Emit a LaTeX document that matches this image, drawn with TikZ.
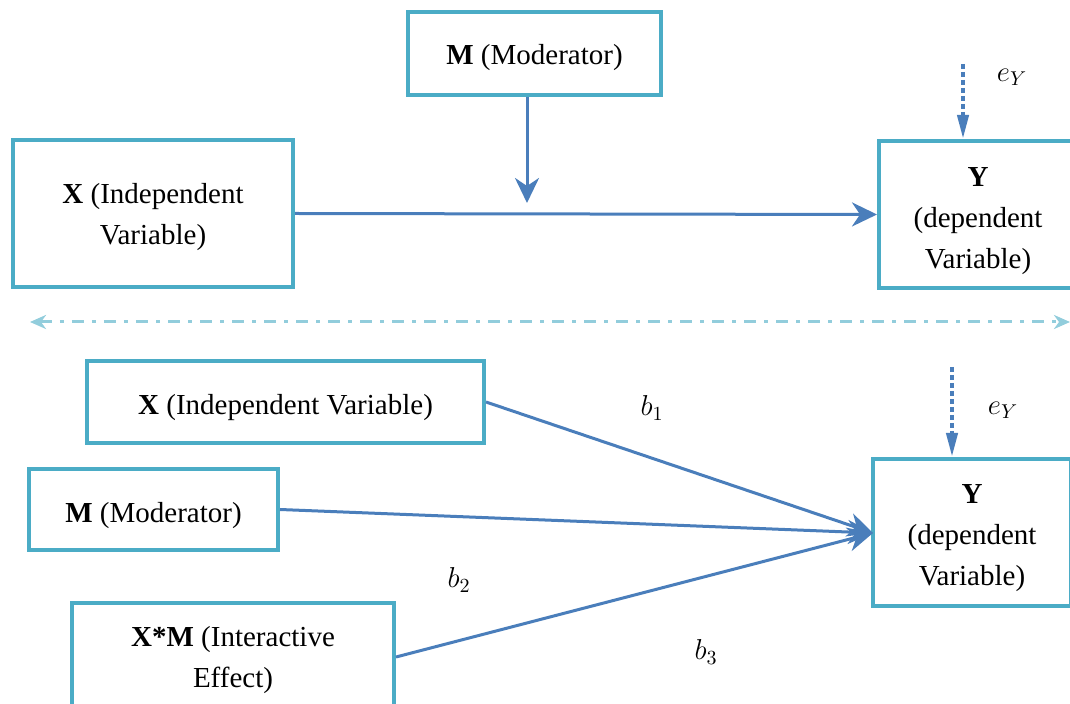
\documentclass[tikz,border=0pt]{standalone}
\usepackage{fontspec}
\setmainfont{Liberation Serif}
\usetikzlibrary{arrows.meta,calc}
\definecolor{boxc}{HTML}{4BACC6}
\definecolor{arrc}{HTML}{4A7EBB}
\definecolor{sepc}{HTML}{92CDDC}
\begin{document}
\begin{tikzpicture}[x=0.5pt,y=-0.5pt,
  vbox/.style={draw=boxc,line width=2pt,inner sep=0pt},
  txt/.style={inner sep=0pt,align=center,font=\fontsize{14.5}{20.5}\selectfont},
  arr/.style={draw=arrc,line width=1.5pt,-{Stealth[length=12.5pt,width=12pt,inset=4pt]}},
  dotarr/.style={draw=arrc,line width=2pt,dash pattern=on 2.5pt off 1.5pt,-{Triangle[length=12pt,width=5.5pt]}},
  sep/.style={draw=sepc,line width=1.5pt,dash pattern=on 6pt off 4pt on 2pt off 4pt,{Stealth[length=8pt,width=7pt,inset=2.5pt]}-{Stealth[length=8pt,width=7pt,inset=2.5pt]}},
  lab/.style={inner sep=0pt,font=\fontsize{14.5}{17}\selectfont}]
\useasboundingbox (0,0) rectangle (1070,704);
% top
\node[vbox,minimum width=126.5pt,minimum height=41.5pt] (Mt) at (534.5,53.5) {};
\node[txt] (Mtt) at ([yshift=-2pt]Mt.center) {\textbf{M} (Moderator)};
\node[vbox,minimum width=140pt,minimum height=73.5pt] (Xt) at (153,213.5) {};
\node[txt] (Xtt) at ([yshift=-2pt]Xt.center) {\textbf{X} (Independent\\Variable)};
\node[vbox,minimum width=99pt,minimum height=73.5pt] (Yt) at (978,214.5) {};
\node[txt] (Ytt) at ([yshift=-3.5pt]Yt.center) {\textbf{Y}\\(dependent\\Variable)};
\coordinate (mtip) at (527,203);
\draw[arr] (Xt.east) -- (Yt.west);
\draw[arr] (Mt.south -| mtip) -- (mtip);
\coordinate (et) at (963,64);
\draw[dotarr] (et) -- (Yt.north -| et);
\node[lab] (eyt) at (1012,77) {$e_Y$};
% separator
\coordinate (sl) at (30,322);
\coordinate (sr) at (1070,322);
\draw[sep] (sl) -- (sr);
% bottom
\node[vbox,minimum width=198.5pt,minimum height=41pt] (Xb) at (285.5,402) {};
\node[txt] (Xbt) at ([yshift=-3pt]Xb.center) {\textbf{X} (Independent Variable)};
\node[vbox,minimum width=124.5pt,minimum height=40.5pt] (Mb) at (153.5,509.5) {};
\node[txt] (Mbt) at ([yshift=-3pt]Mb.center) {\textbf{M} (Moderator)};
\node[vbox,minimum width=161pt,minimum height=59pt,anchor=north] (XMb) at (233,601) {};
\node[txt] (XMt) at (233,660) {\textbf{X*M} (Interactive\\Effect)};
\node[vbox,minimum width=99pt,minimum height=73.5pt] (Yb) at (972,532.5) {};
\node[txt] (Ybt) at ([yshift=-3pt]Yb.center) {\textbf{Y}\\(dependent\\Variable)};
\coordinate (yin) at (873,533);
\draw[arr] (Xb.east) -- (yin);
\draw[arr] (Mb.east) -- (yin);
\draw[arr] ([yshift=2.5pt]XMb.east) -- (yin);
\coordinate (eb) at (952,367);
\draw[dotarr] (eb) -- (Yb.north -| eb);
\node[lab] (eyb) at (1003,410) {$e_Y$};
\node[lab] (b1) at (652,408) {$b_1$};
\node[lab] (b2) at (459,580) {$b_2$};
\node[lab] (b3) at (706,652) {$b_3$};
\end{tikzpicture}
\end{document}
